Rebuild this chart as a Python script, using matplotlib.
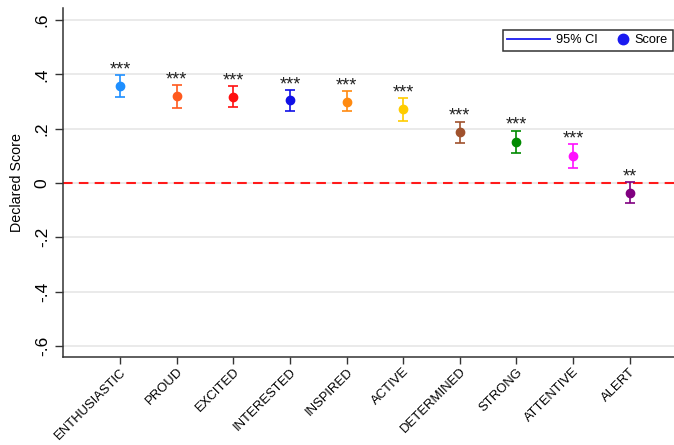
import numpy as np
import matplotlib
matplotlib.use("Agg")
import matplotlib.pyplot as plt
from matplotlib.lines import Line2D
from matplotlib.legend_handler import HandlerLine2DCompound

plt.rcParams["font.family"] = ["Liberation Sans", "DejaVu Sans"]

# %%
emotions = [
    "ENTHUSIASTIC", "PROUD", "EXCITED", "INTERESTED", "INSPIRED",
    "ACTIVE", "DETERMINED", "STRONG", "ATTENTIVE", "ALERT",
]
score = [0.357, 0.319, 0.318, 0.304, 0.300, 0.271, 0.187, 0.152, 0.098, -0.036]
ci_low = [0.318, 0.277, 0.280, 0.266, 0.264, 0.228, 0.147, 0.112, 0.055, -0.073]
ci_high = [0.398, 0.362, 0.357, 0.343, 0.338, 0.314, 0.226, 0.193, 0.143, 0.003]
stars = ["***"] * 9 + ["**"]
colors = [
    "#1E8FFF", "#FF5A1E", "#FF1010", "#1010E6", "#FF8A10",
    "#FFCC00", "#A0522D", "#008A00", "#FF10FF", "#800080",
]
yticks = [-0.6, -0.4, -0.2, 0, 0.2, 0.4, 0.6]
ytick_labels = ["-.6", "-.4", "-.2", "0", ".2", ".4", ".6"]


class MarkerRightHandler(HandlerLine2DCompound):
    """Put the single legend marker near the right end of the handle."""

    def get_xdata(self, legend, xdescent, ydescent, width, height, fontsize):
        return [-xdescent, -xdescent + width], [-xdescent + width - 0.4 * fontsize]


# %%
fig = plt.figure(figsize=(6.74, 4.45), dpi=100)
ax = fig.add_axes([63 / 674, 1 - 356.7 / 445, (680 - 63) / 674, 348.7 / 445])

x = np.arange(1, len(emotions) + 1)
score = np.array(score)
lo = np.array(ci_low)
hi = np.array(ci_high)

ax.axhline(0, color="#FF1A1A", lw=1.5, dashes=(4.6, 3.0), zorder=2)

for xi, s, l, h, c, st in zip(x, score, lo, hi, colors, stars):
    ax.errorbar(
        xi, s, yerr=[[s - l], [h - s]], fmt="o", color=c, ms=6,
        capsize=3.6, elinewidth=1.2, capthick=1.2, zorder=3,
    )
    ax.annotate(
        st, (xi, h), xytext=(0, 0.5), textcoords="offset points",
        ha="center", va="baseline", fontsize=13, color="#222222",
    )

ax.set_xlim(-0.007, 10.89)
ax.set_ylim(-0.64, 0.6446)

ax.set_yticks(yticks)
ax.set_yticklabels(ytick_labels, rotation=90, va="center", fontsize=12.5)
ax.set_xticks(x)
ax.set_xticklabels(
    emotions, rotation=45, ha="right", va="top", rotation_mode="anchor",
    fontsize=9.4,
)

ax.grid(axis="y", color="#EAEAEA", lw=1.4, zorder=0)
ax.set_axisbelow(True)
ax.tick_params(axis="y", length=5.5, width=1, color="#333333", pad=4)
ax.tick_params(axis="x", length=5, width=1, color="#333333", pad=1.5)

ax.spines[["right", "top"]].set_visible(False)
for side in ["left", "bottom"]:
    ax.spines[side].set_color("#333333")
    ax.spines[side].set_linewidth(1.1)

ax.set_ylabel("Declared Score", fontsize=10.3)
ax.yaxis.set_label_coords(-39 / 611, 0.5)

ci_handle = Line2D([], [], color="#1A1AF0", lw=1.3)
score_handle = Line2D([], [], ls="none", marker="o", color="#1A1AF0", ms=7.5)
leg = fig.legend(
    [ci_handle, score_handle], ["95% CI", "Score"],
    loc="upper left", bbox_to_anchor=(503 / 674, 1 - 30 / 445),
    ncol=2, fontsize=9.2, handlelength=3.3, handletextpad=0.5,
    columnspacing=-0.9, borderpad=0.35, borderaxespad=0,
    fancybox=False, edgecolor="#333333", framealpha=1,
    handler_map={score_handle: MarkerRightHandler(numpoints=1)},
)
leg.get_frame().set_linewidth(1.1)

plt.savefig("out.png", dpi=100)
